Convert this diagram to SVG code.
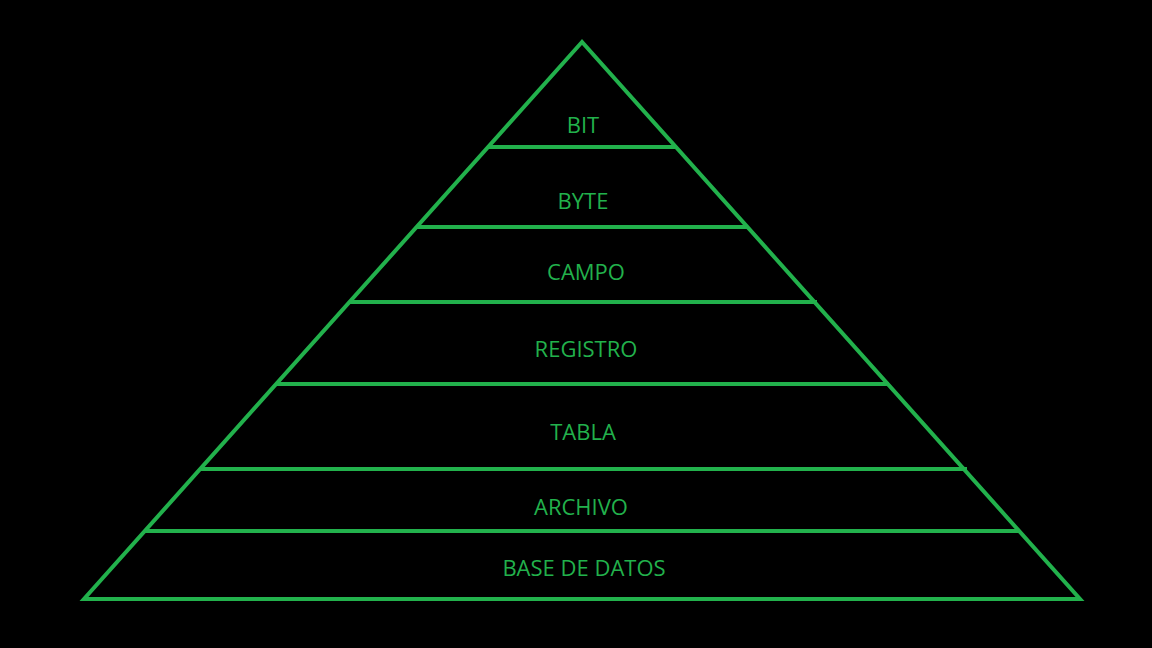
<svg xmlns="http://www.w3.org/2000/svg" width="1152" height="648" viewBox="0 0 1152 648">
<style>
.edge{stroke:#22b14c;stroke-width:4;fill:none;stroke-linecap:square;stroke-linejoin:miter}
.lbl{font-family:"Open Sans","Liberation Sans",sans-serif;font-size:22px;fill:#22b14c;text-anchor:middle}
</style>
<rect width="1152" height="648" fill="#000"/>
<g id="connectors">
<path class="edge" d="M582,42 L84,599 L1080,599 Z"/>
<line class="edge" x1="491" y1="147" x2="674" y2="147"/>
<line class="edge" x1="419" y1="227" x2="746" y2="227"/>
<line class="edge" x1="352" y1="302" x2="815" y2="302"/>
<line class="edge" x1="279" y1="384" x2="887" y2="384"/>
<line class="edge" x1="202" y1="469" x2="965" y2="469"/>
<line class="edge" x1="147" y1="531" x2="1018" y2="531"/>
</g>
<g id="bit"><text class="lbl" x="583" y="133">BIT</text></g>
<g id="byte"><text class="lbl" x="583" y="209">BYTE</text></g>
<g id="campo"><text class="lbl" x="586" y="280">CAMPO</text></g>
<g id="registro"><text class="lbl" x="586" y="357">REGISTRO</text></g>
<g id="tabla"><text class="lbl" x="583" y="440">TABLA</text></g>
<g id="archivo"><text class="lbl" x="581" y="515">ARCHIVO</text></g>
<g id="base-de-datos"><text class="lbl" x="584" y="576">BASE DE DATOS</text></g>
</svg>
